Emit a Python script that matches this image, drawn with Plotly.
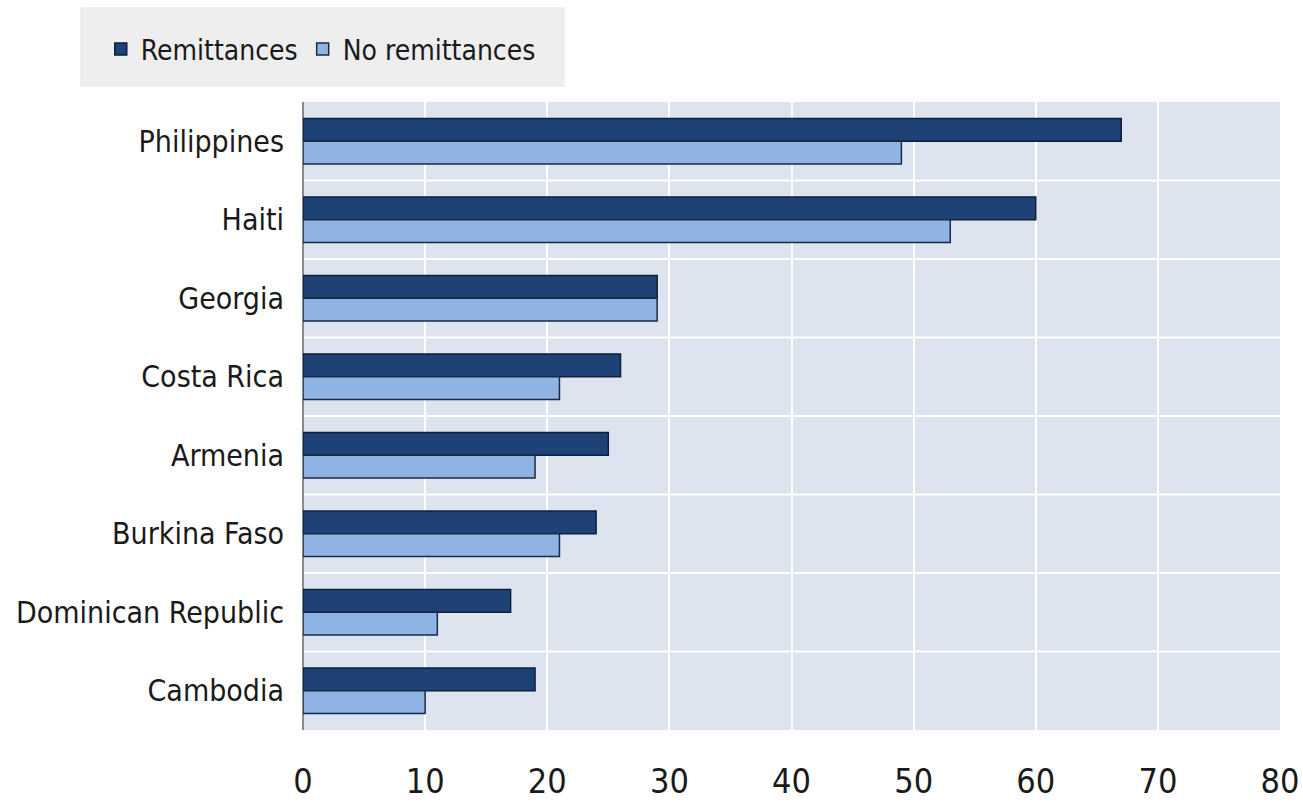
import plotly.graph_objects as go

countries = ["Philippines", "Haiti", "Georgia", "Costa Rica", "Armenia",
             "Burkina Faso", "Dominican Republic", "Cambodia"]
remittances = [67, 60, 29, 26, 25, 24, 17, 19]
no_remittances = [49, 53, 29, 21, 19, 21, 11, 10]
x_ticks = [0, 10, 20, 30, 40, 50, 60, 70, 80]

FONT = "DejaVu Sans Condensed, Liberation Sans Narrow, Arial Narrow, sans-serif"

fig = go.Figure()
fig.add_trace(go.Bar(
    y=countries, x=remittances, orientation="h", name="Remittances",
    marker=dict(color="#1f4276", line=dict(color="#0d1f3c", width=1.5)),
))
fig.add_trace(go.Bar(
    y=countries, x=no_remittances, orientation="h", name="No remittances",
    marker=dict(color="#8fb3e2", line=dict(color="#1b2a44", width=1.5)),
))

# horizontal separators between categories
for i in range(len(countries) - 1):
    fig.add_shape(type="line", xref="paper", x0=0, x1=1, yref="y",
                  y0=i + 0.5, y1=i + 0.5, line=dict(color="white", width=2),
                  layer="below")

# legend background box
fig.add_shape(type="rect", xref="paper", yref="paper",
              x0=-0.228, x1=0.268, y0=1.024, y1=1.151,
              fillcolor="#eeeeee", line=dict(width=0), layer="below")

fig.update_layout(
    width=1303, height=811,
    margin=dict(l=303, r=23, t=102, b=81),
    paper_bgcolor="white",
    plot_bgcolor="#dde4f0",
    barmode="group",
    bargap=0.42,
    bargroupgap=0,
    font=dict(family=FONT, size=30, color="#1a1a1a"),
    legend=dict(
        orientation="h", x=-0.207, y=1.084, xanchor="left", yanchor="middle",
        bgcolor="rgba(0,0,0,0)", font=dict(size=28, family=FONT),
        traceorder="normal",
    ),
    xaxis=dict(
        range=[0, 80], tickvals=x_ticks, showgrid=True, gridcolor="white",
        gridwidth=2, zeroline=True, zerolinecolor="#8a8a8a", zerolinewidth=2,
        tickfont=dict(size=34, family=FONT), ticks="", ticklabelstandoff=28,
        fixedrange=True, automargin=False,
    ),
    yaxis=dict(
        autorange="reversed", showgrid=False, ticks="",
        tickfont=dict(size=30, family=FONT), ticklabelstandoff=18,
        automargin=False,
    ),
    showlegend=True,
)

fig.write_html("out.html")
